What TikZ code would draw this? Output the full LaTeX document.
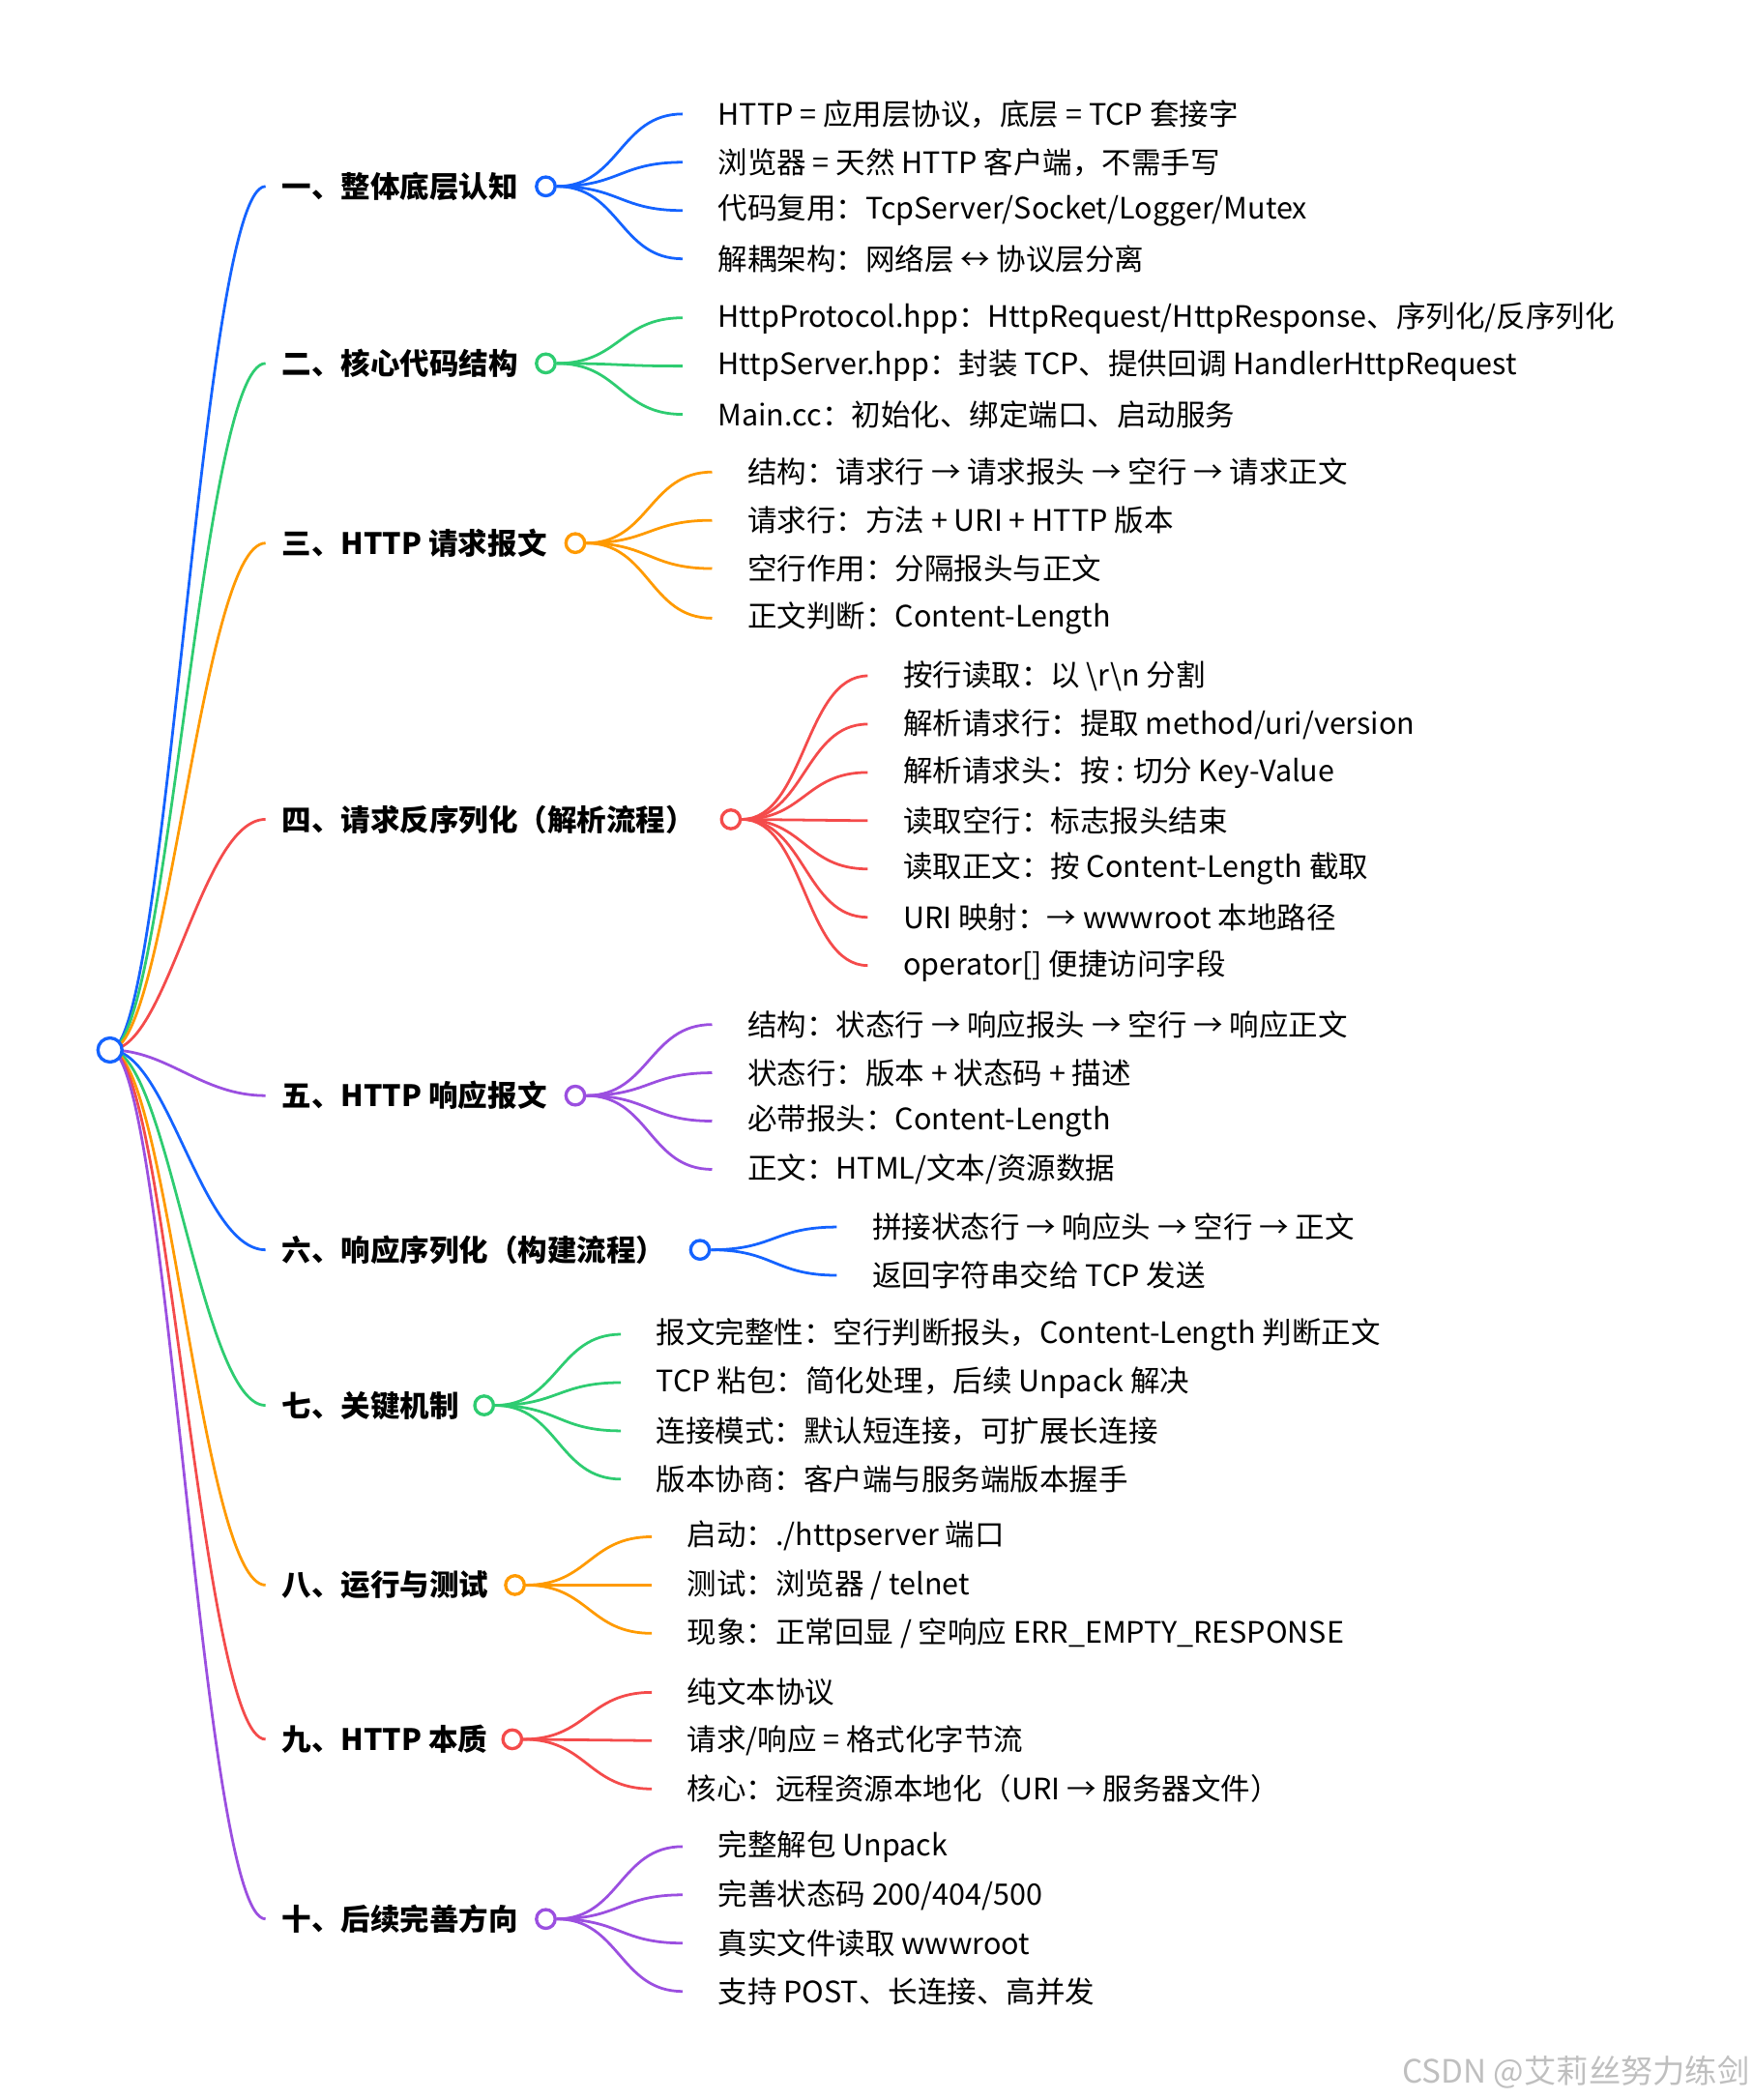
\documentclass[tikz,border=0pt]{standalone}
\usepackage{fontspec}
\setmainfont{Noto Sans CJK SC}
\newfontfamily\cjkb{Noto Sans CJK SC Bold}
\definecolor{cA}{HTML}{1463FF}
\definecolor{cB}{HTML}{2ECC71}
\definecolor{cC}{HTML}{FF9A00}
\definecolor{cD}{HTML}{F44B4B}
\definecolor{cE}{HTML}{9B4FE0}
\tikzset{
  kidtext/.style={anchor=west,inner sep=0pt,font=\fontsize{11}{13}\selectfont},
  brtext/.style={anchor=west,inner sep=0pt,font=\fontsize{11}{13}\selectfont\bfseries},
  dot/.style={circle,draw,line width=1.2pt,minimum size=7pt,inner sep=0pt,fill=white},
  link/.style={line width=1pt}
}
% \mmbr{name}{y}{circle x}{label}{color}
\newcommand\mmbr[5]{%
  \node[brtext] (#1t) at (210,#2) {#4};
  \coordinate (#1e) at (198,#2);
  \draw[link,#5] (root) .. controls (125,783) and (150,#2) .. (#1e);
  \node[dot,draw=#5] (#1) at (#3,#2) {};
}
% \mmkid{branch}{name}{x}{y}{text}{color}
\newcommand\mmkid[6]{%
  \node[kidtext] (#2) at (#3,#4) {#5};
  \coordinate (#2e) at ([xshift=-13]#2.west);
  \path (#1.east) -- (#2e) coordinate[pos=.5] (#2m);
  \draw[link,#6] (#1.east) .. controls (#2m |- #1.east) and (#2m |- #2e) .. (#2e);
}
\begin{document}
\begin{tikzpicture}[x=0.5pt,y=-0.5pt]
\useasboundingbox (0,0) rectangle (1307,1566);
\coordinate (root) at (82,783);
\mmbr{b1}{139}{407}{一、整体底层认知}{cA}
\mmbr{b2}{271}{407}{二、核心代码结构}{cB}
\mmbr{b3}{405}{429}{三、HTTP 请求报文}{cC}
\mmbr{b4}{611}{545}{四、请求反序列化（解析流程）}{cD}
\mmbr{b5}{817}{429}{五、HTTP 响应报文}{cE}
\mmbr{b6}{932}{522}{六、响应序列化（构建流程）}{cA}
\mmbr{b7}{1048}{361}{七、关键机制}{cB}
\mmbr{b8}{1182}{384}{八、运行与测试}{cC}
\mmbr{b9}{1297}{382}{九、HTTP 本质}{cD}
\mmbr{b10}{1431}{407}{十、后续完善方向}{cE}
\node[dot,draw=cA,minimum size=9pt] (rootc) at (root) {};
\mmkid{b1}{k11}{535}{85}{HTTP = 应用层协议，底层 = TCP 套接字}{cA}
\mmkid{b1}{k12}{535}{121}{浏览器 = 天然 HTTP 客户端，不需手写}{cA}
\mmkid{b1}{k13}{535}{157}{代码复用：TcpServer/Socket/Logger/Mutex}{cA}
\mmkid{b1}{k14}{535}{193}{解耦架构：网络层 ↔ 协议层分离}{cA}
\mmkid{b2}{k21}{535}{237}{HttpProtocol.hpp：HttpRequest/HttpResponse、序列化/反序列化}{cB}
\mmkid{b2}{k22}{535}{273}{HttpServer.hpp：封装 TCP、提供回调 HandlerHttpRequest}{cB}
\mmkid{b2}{k23}{535}{309}{Main.cc：初始化、绑定端口、启动服务}{cB}
\mmkid{b3}{k31}{557}{352}{结构：请求行 → 请求报头 → 空行 → 请求正文}{cC}
\mmkid{b3}{k32}{557}{388}{请求行：方法 + URI + HTTP 版本}{cC}
\mmkid{b3}{k33}{557}{424}{空行作用：分隔报头与正文}{cC}
\mmkid{b3}{k34}{557}{461}{正文判断：Content-Length}{cC}
\mmkid{b4}{k41}{673}{504}{按行读取：以 \textbackslash r\textbackslash n 分割}{cD}
\mmkid{b4}{k42}{673}{540}{解析请求行：提取 method/uri/version}{cD}
\mmkid{b4}{k43}{673}{576}{解析请求头：按 : 切分 Key-Value}{cD}
\mmkid{b4}{k44}{673}{612}{读取空行：标志报头结束}{cD}
\mmkid{b4}{k45}{673}{648}{读取正文：按 Content-Length 截取}{cD}
\mmkid{b4}{k46}{673}{684}{URI 映射：→ wwwroot 本地路径}{cD}
\mmkid{b4}{k47}{673}{720}{operator[] 便捷访问字段}{cD}
\mmkid{b5}{k51}{557}{764}{结构：状态行 → 响应报头 → 空行 → 响应正文}{cE}
\mmkid{b5}{k52}{557}{800}{状态行：版本 + 状态码 + 描述}{cE}
\mmkid{b5}{k53}{557}{836}{必带报头：Content-Length}{cE}
\mmkid{b5}{k54}{557}{872}{正文：HTML/文本/资源数据}{cE}
\mmkid{b6}{k61}{650}{915}{拼接状态行 → 响应头 → 空行 → 正文}{cA}
\mmkid{b6}{k62}{650}{951}{返回字符串交给 TCP 发送}{cA}
\mmkid{b7}{k71}{489}{995}{报文完整性：空行判断报头，Content-Length 判断正文}{cB}
\mmkid{b7}{k72}{489}{1031}{TCP 粘包：简化处理，后续 Unpack 解决}{cB}
\mmkid{b7}{k73}{489}{1067}{连接模式：默认短连接，可扩展长连接}{cB}
\mmkid{b7}{k74}{489}{1103}{版本协商：客户端与服务端版本握手}{cB}
\mmkid{b8}{k81}{512}{1146}{启动：./httpserver 端口}{cC}
\mmkid{b8}{k82}{512}{1182}{测试：浏览器 / telnet}{cC}
\mmkid{b8}{k83}{512}{1218}{现象：正常回显 / 空响应 ERR\_EMPTY\_RESPONSE}{cC}
\mmkid{b9}{k91}{512}{1262}{纯文本协议}{cD}
\mmkid{b9}{k92}{512}{1298}{请求/响应 = 格式化字节流}{cD}
\mmkid{b9}{k93}{512}{1334}{核心：远程资源本地化（URI → 服务器文件）}{cD}
\mmkid{b10}{k101}{535}{1377}{完整解包 Unpack}{cE}
\mmkid{b10}{k102}{535}{1413}{完善状态码 200/404/500}{cE}
\mmkid{b10}{k103}{535}{1449}{真实文件读取 wwwroot}{cE}
\mmkid{b10}{k104}{535}{1485}{支持 POST、长连接、高并发}{cE}
\node[anchor=east,inner sep=0pt,text=black!25,font=\fontsize{12}{14}\selectfont] (wm) at (1305,1545) {CSDN @艾莉丝努力练剑};
\end{tikzpicture}
\end{document}
